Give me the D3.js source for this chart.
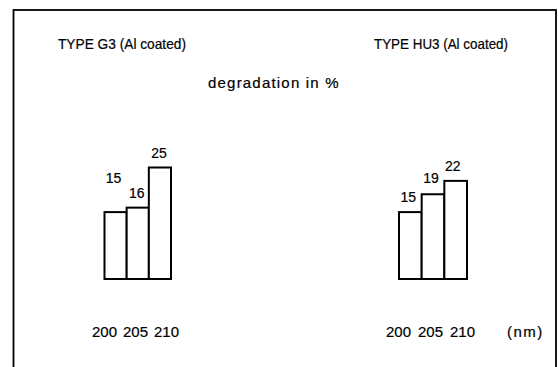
<!DOCTYPE html>
<html><head><meta charset="utf-8">
<script src="https://cdn.jsdelivr.net/npm/d3@7"></script>
<style>
html,body{margin:0;padding:0;background:#fff;}
svg{display:block;}
text{font-family:"Liberation Sans",Arial,Helvetica,sans-serif;fill:#000;stroke:#000;stroke-width:0.2px;}
</style></head>
<body>
<svg id="chart" width="558" height="367"></svg>
<script>
// ---- data ----
const wavelengths = ["200", "205", "210"];
const panels = ["TYPE G3 (Al coated)", "TYPE HU3 (Al coated)"];
const g3Values = [15, 16, 25];
const hu3Values = [15, 19, 22];
const valueTitle = "degradation in %";
const unitLabel = "(nm)";

const svg = d3.select("#chart");

// frame
svg.append("rect").attr("x", 13.5).attr("y", 10).attr("width", 542.5).attr("height", 400)
  .attr("fill", "none").attr("stroke", "#000").attr("stroke-width", 1.8);

const y = d3.scaleLinear().domain([0, 25]).range([279, 167.5]);

const layout = [
  {title: panels[0], values: g3Values, titleX: 58, titleW: 128, bars: [104.5, 171], ticks: [104, 166], lift: [29, 10, 10], shift: [-2, -1, -1]},
  {title: panels[1], values: hu3Values, titleX: 374, titleW: 134, bars: [399, 467], ticks: [398, 462], lift: [10, 11, 10], shift: [-2, -2, -3]}
];

layout.forEach(p => {
  const x = d3.scaleBand().domain(wavelengths).range(p.bars).padding(0);
  const g = svg.append("g");
  g.append("text").attr("x", p.titleX).attr("y", 49).attr("font-size", 15)
    .attr("textLength", p.titleW).attr("lengthAdjust", "spacingAndGlyphs").text(p.title);
  g.selectAll("rect.bar").data(p.values).join("rect").attr("class", "bar")
    .attr("x", (d, i) => x(wavelengths[i]))
    .attr("width", x.bandwidth())
    .attr("y", d => y(d))
    .attr("height", d => y(0) - y(d))
    .attr("fill", "#fff").attr("stroke", "#000").attr("stroke-width", 2);
  g.selectAll("text.val").data(p.values).join("text").attr("class", "val")
    .attr("x", (d, i) => x(wavelengths[i]) + x.bandwidth() / 2 + p.shift[i])
    .attr("y", (d, i) => y(d) - p.lift[i])
    .attr("text-anchor", "middle").attr("font-size", 14).text(d => d);
  const tx = d3.scalePoint().domain(wavelengths).range(p.ticks);
  const ax = g.append("g").attr("transform", "translate(0,337)")
    .call(d3.axisBottom(tx).tickSize(0).tickPadding(0));
  ax.select(".domain").remove();
  ax.selectAll("text").attr("dy", 0).attr("font-size", 15)
    .attr("font-family", '"Liberation Sans",Arial,Helvetica,sans-serif')
    .attr("fill", "#000").attr("stroke", "#000").attr("stroke-width", 0.2);
});

svg.append("text").attr("x", 208).attr("y", 88).attr("font-size", 15)
  .attr("letter-spacing", 1.2).text(valueTitle);
svg.append("text").attr("x", 507).attr("y", 337).attr("font-size", 15)
  .attr("letter-spacing", 1.5).text(unitLabel);
</script>
</body></html>
